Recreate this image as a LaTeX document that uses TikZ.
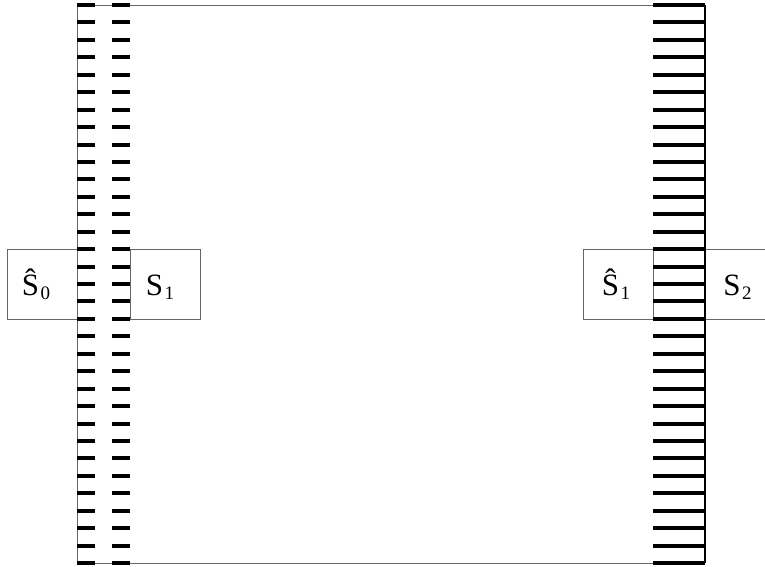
\documentclass[tikz,border=0pt]{standalone}
\usepackage{fontspec}
\setmainfont{Liberation Serif}
\tikzset{
  box/.style={draw=black!60, line width=0.8pt, minimum width=70pt, minimum height=70pt, inner sep=0pt},
  lbl/.style={inner sep=0pt, anchor=base, font=\fontsize{31}{36}\selectfont},
  frameline/.style={draw=black!60, line width=0.8pt},
  bar/.style={line width=4pt, black}
}
\newcommand\lblsub[1]{\kern1.5pt\raisebox{-4pt}{\fontsize{19}{19}\selectfont #1}}
\begin{document}
\begin{tikzpicture}[x=1pt,y=-1pt]
\useasboundingbox (0,0) rectangle (765,567);
% boxes
\node[box] (s0hat) at (42,284) {};
\node[box] (s1) at (165,284) {};
\node[box] (s1hat) at (618,284) {};
\node[box, minimum width=60pt] (s2) at (735,284) {};
% labels
\node[lbl] (t0) at (36,295) {\^{S}\lblsub{0}};
\node[lbl] (t1) at (160,295) {S\lblsub{1}};
\node[lbl] (t2) at (616,295) {\^{S}\lblsub{1}};
\node[lbl] (t3) at (737.5,295) {S\lblsub{2}};
% frame
\coordinate (tl) at (77.5,5);
\coordinate (bl) at (77.5,563);
\coordinate (tr) at (653,5);
\coordinate (br) at (653,563);
\coordinate (rt) at (705,5);
\coordinate (rb) at (705,563);
\draw[frameline] (bl) -- (tl) -- (tr);
\draw[frameline] (bl) -- (br);
\draw[line width=1.2pt] (rt) -- (rb);
% dashes
\foreach \i in {0,...,32} {
  \pgfmathsetmacro\yy{5+\i*17.4375}
  \draw[bar] (77,\yy) -- (95,\yy);
  \draw[bar] (112,\yy) -- (130,\yy);
  \draw[bar] (653,\yy) -- (705,\yy);
}
\end{tikzpicture}
\end{document}
